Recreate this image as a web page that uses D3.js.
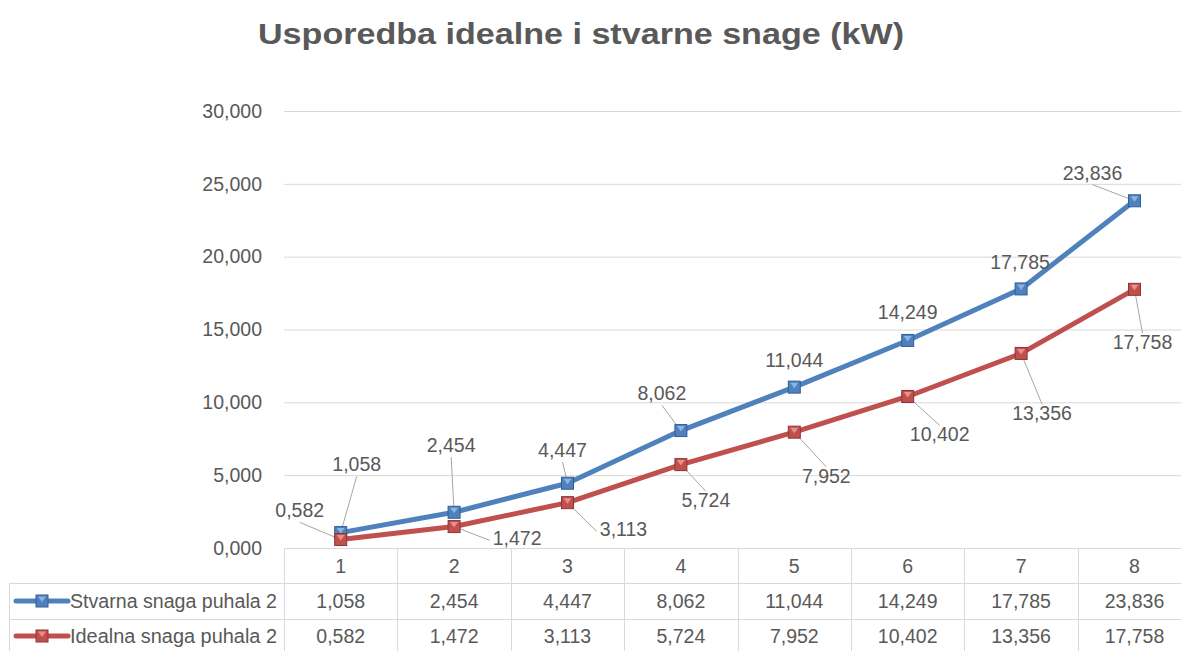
<!DOCTYPE html>
<html>
<head>
<meta charset="utf-8">
<script src="https://cdn.jsdelivr.net/npm/d3@7"></script>
<style>
  body { margin: 0; background: #fff; }
  svg { display: block; font-family: "Liberation Sans", Arial, sans-serif; }
</style>
</head>
<body>
<svg id="chart" width="1181" height="651"></svg>
<script>
const CATEGORIES = [1, 2, 3, 4, 5, 6, 7, 8];
const STVARNA = [1.058, 2.454, 4.447, 8.062, 11.044, 14.249, 17.785, 23.836];
const IDEALNA = [0.582, 1.472, 3.113, 5.724, 7.952, 10.402, 13.356, 17.758];
const SERIES_NAMES = ['Stvarna snaga puhala 2', 'Idealna snaga puhala 2'];
const Y_TICKS = [0, 5, 10, 15, 20, 25, 30];
const TITLE = 'Usporedba idealne i stvarne snage (kW)';

// label placement, relative to each point (px), and whether a leader line is drawn
const BLUE_LABELS = [[16, -68, 1], [-3, -67, 1], [-5, -33, 1], [-19, -37, 1], [0, -27, 0], [0, -28, 0], [-1, -27, 0], [-42, -28, 1]];
const RED_LABELS = [[-41, -29, 1], [63, 12, 1], [56, 27, 1], [25, 36, 1], [32, 44, 1], [32, 38, 1], [21, 60, 1], [8, 53, 1]];

const TEXT = '#595959';
const GRID = '#d9d9d9';
const FS = '19.5px';

const hr = d3.formatLocale({ decimal: ',', thousands: '.', grouping: [3], currency: ['', ''] });
const fmt = hr.format('.3f');

const svg = d3.select('#chart');

const x = d3.scaleBand()
    .domain(CATEGORIES)
    .range([284, 284 + 8 * 113.4])
    .padding(0);
const y = d3.scaleLinear()
    .domain([0, 30])
    .range([548, 111]);
const cx = c => x(c) + x.bandwidth() / 2;

// title
svg.append('text')
    .attr('x', 581)
    .attr('y', 44)
    .attr('text-anchor', 'middle')
    .attr('fill', TEXT)
    .style('font-size', '30px')
    .style('font-weight', 'bold')
    .attr('textLength', 646)
    .attr('lengthAdjust', 'spacingAndGlyphs')
    .text(TITLE);

// y axis + gridlines
const yAxis = svg.append('g')
    .attr('transform', 'translate(284,0)')
    .call(d3.axisLeft(y).tickValues(Y_TICKS).tickFormat(fmt).tickSize(-(1181 - 284)).tickPadding(22));
yAxis.select('.domain').remove();
yAxis.selectAll('line').attr('stroke', GRID);
yAxis.selectAll('text')
    .attr('fill', TEXT)
    .style('font-size', FS)
    .style('font-family', '"Liberation Sans", Arial, sans-serif');

// data table
const table = svg.append('g');
const rowLines = [583, 619];
table.selectAll('.hline')
    .data(rowLines)
    .enter().append('line')
    .attr('x1', 9).attr('x2', 1181)
    .attr('y1', d => d + 0.5).attr('y2', d => d + 0.5)
    .attr('stroke', GRID);
table.append('line')
    .attr('x1', 9.5).attr('x2', 9.5).attr('y1', 583).attr('y2', 651)
    .attr('stroke', GRID);
table.selectAll('.vline')
    .data(CATEGORIES)
    .enter().append('line')
    .attr('x1', d => Math.round(x(d)) + 0.5)
    .attr('x2', d => Math.round(x(d)) + 0.5)
    .attr('y1', 548).attr('y2', 651)
    .attr('stroke', GRID);
table.selectAll('.cat')
    .data(CATEGORIES)
    .enter().append('text')
    .attr('x', d => cx(d))
    .attr('y', 573)
    .attr('text-anchor', 'middle')
    .attr('fill', TEXT)
    .style('font-size', FS)
    .text(d => d);

const series = [
    { name: SERIES_NAMES[0], values: STVARNA, color: '#4f81bd', dark: '#2f5f98', light: '#8db3e2', labels: BLUE_LABELS, rowY: 601 },
    { name: SERIES_NAMES[1], values: IDEALNA, color: '#c0504d', dark: '#8e3532', light: '#e6908e', labels: RED_LABELS, rowY: 636 }
];

series.forEach(s => {
    table.selectAll(null)
        .data(s.values)
        .enter().append('text')
        .attr('x', (d, i) => cx(CATEGORIES[i]))
        .attr('y', s.rowY + 7)
        .attr('text-anchor', 'middle')
        .attr('fill', TEXT)
        .style('font-size', FS)
        .text(d => fmt(d));
    table.append('text')
        .attr('x', 70)
        .attr('y', s.rowY + 7)
        .attr('fill', TEXT)
        .style('font-size', FS)
        .attr('textLength', 207)
        .attr('lengthAdjust', 'spacingAndGlyphs')
        .text(s.name);
    table.append('line')
        .attr('x1', 16).attr('x2', 68)
        .attr('y1', s.rowY).attr('y2', s.rowY)
        .attr('stroke', s.color)
        .attr('stroke-width', 5)
        .attr('stroke-linecap', 'round');
});

function drawMarker(g, px, py, s, size) {
    const h = size / 2;
    g.append('rect')
        .attr('x', px - h).attr('y', py - h)
        .attr('width', size).attr('height', size)
        .attr('fill', s.color)
        .attr('stroke', s.dark)
        .attr('stroke-width', 1);
    g.append('path')
        .attr('d', `M${px - h + 2},${py - h + 1.5}L${px + h - 2},${py - h + 1.5}L${px},${py + 1}Z`)
        .attr('fill', s.light);
}

const lineGen = d3.line()
    .x((d, i) => cx(CATEGORIES[i]))
    .y(d => y(d));

const lines = svg.append('g');
const leaders = svg.append('g');
const markers = svg.append('g');
const labels = svg.append('g');

series.forEach(s => {
    lines.append('path')
        .datum(s.values)
        .attr('d', lineGen)
        .attr('fill', 'none')
        .attr('stroke', s.color)
        .attr('stroke-width', 5)
        .attr('stroke-linejoin', 'round');
});

series.forEach(s => {
    s.values.forEach((v, i) => {
        const px = cx(CATEGORIES[i]);
        const py = y(v);
        const [dx, dy, lead] = s.labels[i];
        const t = labels.append('text')
            .attr('x', px + dx)
            .attr('y', py + dy)
            .attr('dy', '0.35em')
            .attr('text-anchor', 'middle')
            .attr('fill', TEXT)
            .style('font-size', FS)
            .text(fmt(v));
        if (lead) {
            const b = t.node().getBBox();
            const lx = b.x + b.width / 2, ly = b.y + b.height / 2;
            let ex, ey;
            if (Math.abs(py - ly) > 0.6 * Math.abs(px - lx)) {
                // attach to top / bottom centre of the label
                ex = lx;
                ey = py > ly ? b.y + b.height + 1 : b.y + 2;
            } else {
                // attach to left / right middle
                ex = px > lx ? b.x + b.width + 3 : b.x - 3;
                ey = ly + 2;
            }
            leaders.append('line')
                .attr('x1', px).attr('y1', py)
                .attr('x2', ex).attr('y2', ey)
                .attr('stroke', '#a6a6a6')
                .attr('stroke-width', 1);
        }
        drawMarker(markers, px, py, s, 12);
    });
    drawMarker(markers, 42, s.rowY, s, 12);
});
</script>
</body>
</html>
